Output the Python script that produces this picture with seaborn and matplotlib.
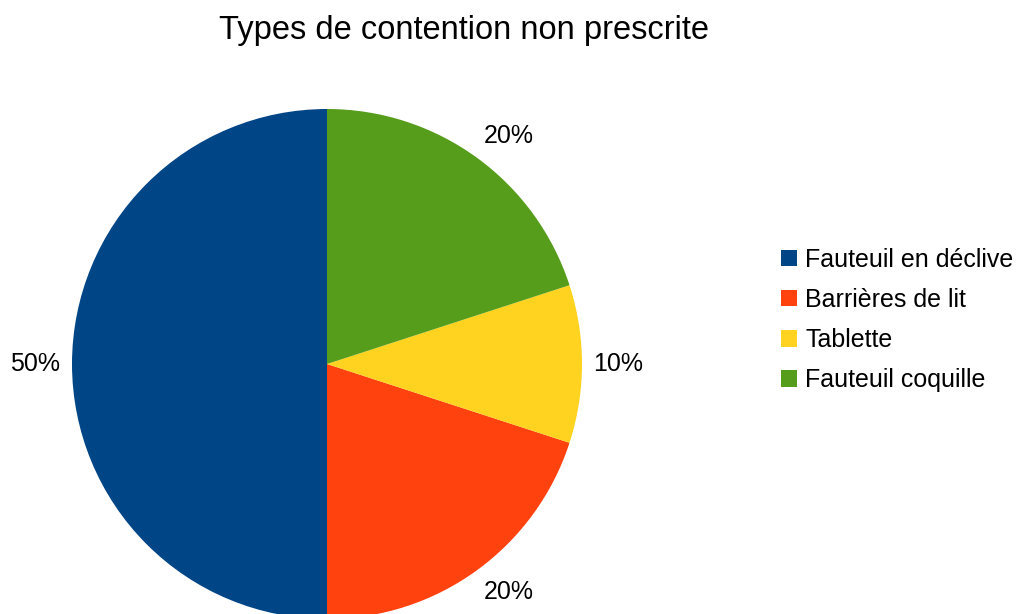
#!/usr/bin/env python3
import matplotlib

matplotlib.use("Agg")

import numpy as np
import seaborn as sns
from matplotlib import pyplot as plt
from matplotlib.patches import Patch

# Data
categories = ["Fauteuil en déclive", "Barrières de lit", "Tablette", "Fauteuil coquille"]
shares = [50, 20, 10, 20]
pct_labels = ["50%", "20%", "10%", "20%"]
colors = ["#004586", "#ff420e", "#ffd320", "#579d1c"]
title = "Types de contention non prescrite"

W, H = 1021, 614


def main() -> None:
    sns.set_theme(style="white")
    plt.rcParams["font.family"] = ["Liberation Sans", "DejaVu Sans"]
    plt.rcParams["text.color"] = "black"

    fig = plt.figure(figsize=(W / 100, H / 100), dpi=100)
    ax = fig.add_axes([0, 0, 1, 1])

    wedges, texts = ax.pie(
        shares,
        labels=pct_labels,
        colors=colors,
        startangle=90,
        counterclock=True,
        center=(327, H - 364),
        radius=255,
        labeldistance=1.045,
        frame=True,
        wedgeprops={"linewidth": 0},
        textprops={"fontsize": 18, "color": "black"},
    )
    # pie() picks alignment from the absolute x, which breaks with an offset centre
    for w, t in zip(wedges, texts):
        mid = np.deg2rad((w.theta1 + w.theta2) / 2)
        c, s = np.cos(mid), np.sin(mid)
        t.set_ha("center" if abs(c) < 1e-6 else ("left" if c > 0 else "right"))
        t.set_va("bottom" if s > 0.5 else ("top" if s < -0.5 else "center"))
    ax.set_xlim(0, W)
    ax.set_ylim(0, H)
    ax.set_aspect("equal")
    ax.axis("off")

    fig.text(464 / W, 1 - 30 / H, title, ha="center", va="center",
             fontsize=23.5, color="black")

    handles = [Patch(facecolor=c, edgecolor="none") for c in colors]
    fig.legend(
        handles,
        categories,
        loc="center left",
        bbox_to_anchor=(781 / W, 1 - 320 / H),
        bbox_transform=fig.transFigure,
        frameon=False,
        fontsize=18,
        labelcolor="black",
        handlelength=0.64,
        handleheight=0.64,
        handletextpad=0.32,
        labelspacing=0.65,
        borderpad=0,
        borderaxespad=0,
    )

    fig.savefig("out.png", dpi=100)
    plt.close(fig)


if __name__ == "__main__":
    main()
